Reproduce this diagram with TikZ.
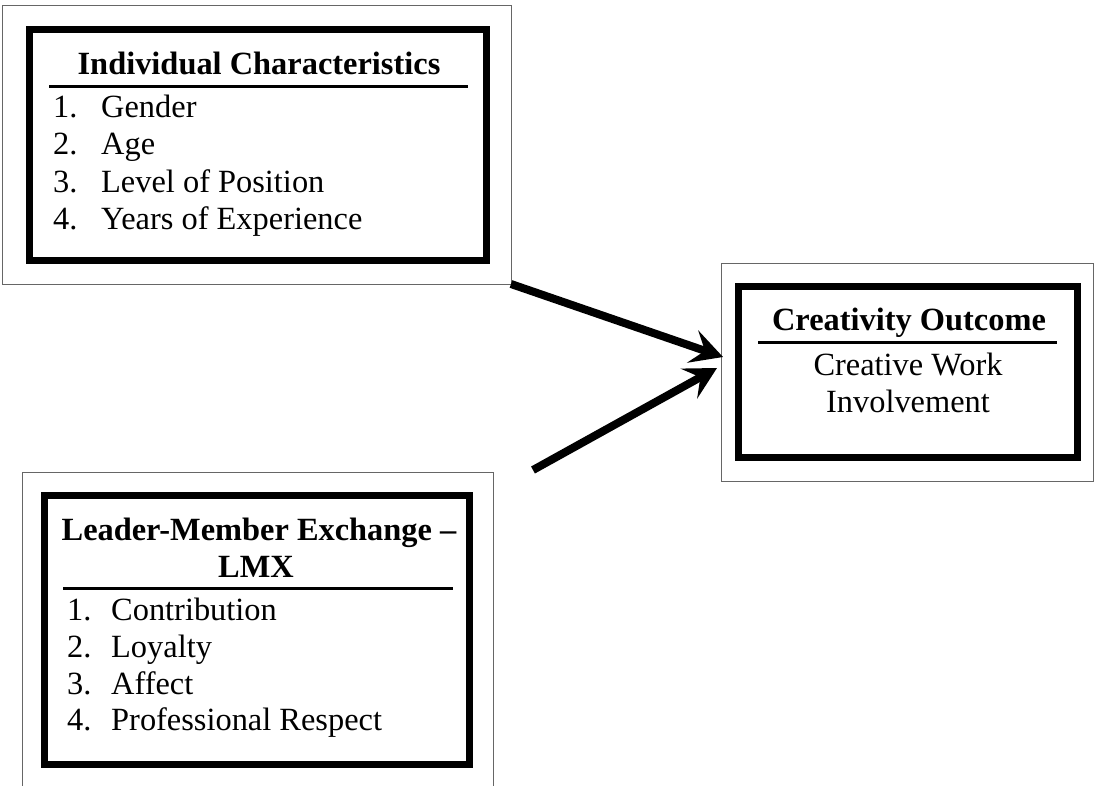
\documentclass[tikz,border=0pt]{standalone}
\usepackage{fontspec}
\setmainfont{Liberation Serif}
\usetikzlibrary{arrows.meta}
\begin{document}
\begin{tikzpicture}[x=1pt,y=-1pt,
  frame/.style={draw=black!60, line width=0.9pt, inner sep=0pt, outer sep=0pt, rectangle},
  panel/.style={draw=black, line width=7pt, inner sep=0pt, rectangle},
  txt/.style={font=\fontsize{32.4}{37}\selectfont, inner sep=0pt, anchor=base west},
  ttl/.style={font=\fontsize{32.4}{37}\selectfont\bfseries, inner sep=0pt, anchor=base},
  ctr/.style={font=\fontsize{32.4}{37}\selectfont, inner sep=0pt, anchor=base},
  titlerule/.style={line width=3pt},
  arr/.style={line width=8pt, -{Stealth[length=32pt,width=34pt,inset=13pt]}}
]
\useasboundingbox (0,0) rectangle (1094,785);

% ---- Individual Characteristics ----
\node[frame, minimum width=509pt, minimum height=279pt] (ic-frame) at (256.5,144.5) {};
\node[panel, minimum width=457pt, minimum height=231pt] (ic) at (258,145) {};
\node[ttl] (ic-title) at (259,74) {Individual Characteristics};
\draw[titlerule] (49,86) -- (468,86);
\node[txt] (ic-n1) at (53,117) {1.};
\node[txt] (ic-t1) at (101,117) {Gender};
\node[txt] (ic-n2) at (53,154) {2.};
\node[txt] (ic-t2) at (101,154) {Age};
\node[txt] (ic-n3) at (53,192) {3.};
\node[txt] (ic-t3) at (101,192) {Level of Position};
\node[txt] (ic-n4) at (53,229) {4.};
\node[txt] (ic-t4) at (101,229) {Years of Experience};

% ---- Leader-Member Exchange ----
\draw[draw=black!60, line width=0.9pt] (22,790) -- (22,472) -- (493,472) -- (493,790);
\node[panel, minimum width=425pt, minimum height=269pt] (lmx) at (257,630) {};
\node[ttl] (lmx-title1) at (259,540) {Leader-Member Exchange \textendash};
\node[ttl] (lmx-title2) at (256,577) {LMX};
\draw[titlerule] (63,588) -- (453,588);
\node[txt] (lmx-n1) at (67,620) {1.};
\node[txt] (lmx-t1) at (111,620) {Contribution};
\node[txt] (lmx-n2) at (67,657) {2.};
\node[txt] (lmx-t2) at (111,657) {Loyalty};
\node[txt] (lmx-n3) at (67,694) {3.};
\node[txt] (lmx-t3) at (111,694) {Affect};
\node[txt] (lmx-n4) at (67,730) {4.};
\node[txt] (lmx-t4) at (111,730) {Professional Respect};
\coordinate (lmx-start) at (533,470);

% ---- Creativity Outcome ----
\node[frame, minimum width=372pt, minimum height=218pt] (co-frame) at (907,372) {};
\node[panel, minimum width=339pt, minimum height=171pt] (co) at (908,372) {};
\node[ttl] (co-title) at (909,330) {Creativity Outcome};
\draw[titlerule] (758,342) -- (1057,342);
\node[ctr] (co-l1) at (908,375) {Creative Work};
\node[ctr] (co-l2) at (908,412) {Involvement};

% ---- connectors ----
\draw[arr] (ic-frame.south east) -- ([xshift=2pt,yshift=15pt]co-frame.west);
\draw[arr] (lmx-start) -- ([xshift=-4pt,yshift=4pt]co-frame.west);
\end{tikzpicture}
\end{document}
